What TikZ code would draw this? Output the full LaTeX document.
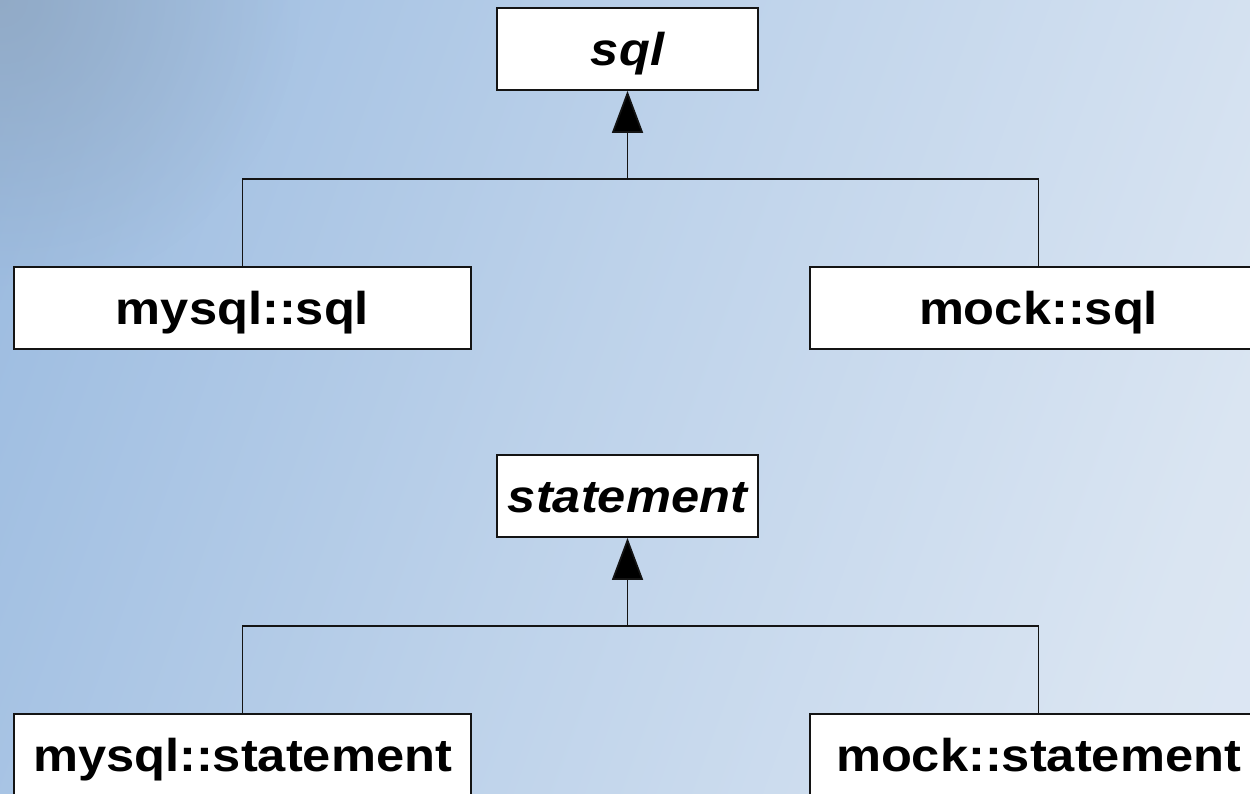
\documentclass[tikz,border=0pt]{standalone}
\usepackage{fontspec}
\setmainfont{Liberation Sans}
\usetikzlibrary{arrows.meta,fadings}

\definecolor{bgA}{HTML}{92B4DB}
\definecolor{bgB}{HTML}{9BBBE0}
\definecolor{bgC}{HTML}{BDD2EA}
\definecolor{bgD}{HTML}{DAE5F2}
\definecolor{bgE}{HTML}{E9EFF8}
\definecolor{cornergray}{HTML}{8A9DB2}
\definecolor{edge}{HTML}{141414}

\pgfdeclarehorizontalshading{backdrop}{100bp}{%
  color(0bp)=(bgA); color(24bp)=(bgB); color(48bp)=(bgC);
  color(72bp)=(bgD); color(100bp)=(bgE)}
\tikzfading[name=cornerfade, inner color=transparent!45, outer color=transparent!100]

\tikzset{
  classbox/.style={draw=edge, line width=1.7pt, fill=white, inner sep=0pt,
    minimum height=82pt, text height=57pt, text depth=25pt,
    font=\fontsize{46}{50}\selectfont\bfseries},
  rootbox/.style={classbox, minimum width=261pt},
  leafbox/.style={classbox, minimum width=457pt},
  link/.style={draw=edge, line width=1.7pt},
  inherit/.style={link, -{Triangle[length=42pt,width=31pt,fill=black]}}
}
\newcommand{\wide}[1]{\scalebox{1.1}[1]{#1}}

\begin{document}
\begin{tikzpicture}[x=1pt,y=-1pt]
  \useasboundingbox (0,0) rectangle (1250,793);
  % backdrop
  \shade[shading=backdrop, shading angle=-20] (-100,-100) rectangle (1350,893);
  \fill[cornergray, path fading=cornerfade] (0,0) circle (300);

  % sql hierarchy
  \node[rootbox] (sql) at (627.5,49) {\wide{\itshape sql}};
  \node[leafbox] (mysqlsql) at (242.5,308) {\wide{mysql::sql}};
  \node[leafbox] (mocksql) at (1038.5,308) {\wide{mock::sql}};
  \coordinate (jsql) at (627.5,179);
  \draw[link] (mysqlsql.north) |- (jsql) -| (mocksql.north);
  \draw[inherit] (jsql) -- (sql.south);

  % statement hierarchy
  \node[rootbox] (stmt) at (627.5,496) {\wide{\itshape statement}};
  \node[leafbox] (mysqlstmt) at (242.5,755) {\wide{mysql::statement}};
  \node[leafbox] (mockstmt) at (1038.5,755) {\wide{mock::statement}};
  \coordinate (jstmt) at (627.5,626);
  \draw[link] (mysqlstmt.north) |- (jstmt) -| (mockstmt.north);
  \draw[inherit] (jstmt) -- (stmt.south);
\end{tikzpicture}
\end{document}
